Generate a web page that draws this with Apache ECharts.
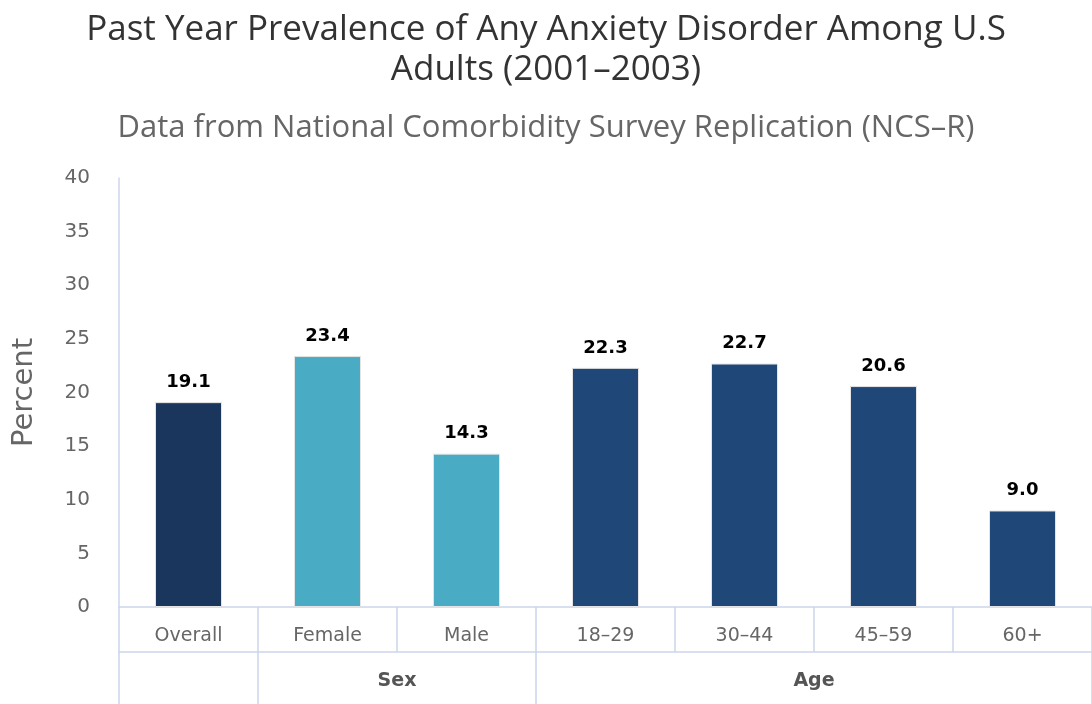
<!DOCTYPE html>
<html>
<head>
<meta charset="utf-8">
<title>Anxiety Disorder Prevalence</title>
<script src="https://cdn.jsdelivr.net/npm/echarts@6/dist/echarts.min.js"></script>
<style>
  html, body { margin: 0; padding: 0; background: #fff; }
  #container { width: 1092px; height: 704px; }
</style>
</head>
<body>
<div id="container"></div>
<script>
// chart values
var categories = ["Overall", "Female", "Male", "18\u201329", "30\u201344", "45\u201359", "60+"];
var groupOf = ["overall", "sex", "sex", "age", "age", "age", "age"];
var percentValues = [19.1, 23.4, 14.3, 22.3, 22.7, 20.6, 9.0];
// group row: label and where it sits (in category units)
var groupLabels = ["Sex", "Age"];
var groupCenters = [2, 5];
var groupEdges = [0, 1, 3, 7];
var yTicks = [0, 5, 10, 15, 20, 25, 30, 35, 40];

var colors = { overall: "#1b365d", sex: "#4aabc5", age: "#1f4778" };
var lineColor = "#ccd6eb";
var axisFont = "DejaVu Sans";

var chartDom = document.getElementById("container");
var myChart = echarts.init(chartDom);
var option;

option = {
  animation: false,
  title: [
    {
      text: "Past Year Prevalence of Any Anxiety Disorder Among U.S\nAdults (2001\u20132003)",
      left: "center",
      top: 5,
      textStyle: {
        fontFamily: "Open Sans",
        fontWeight: "normal",
        fontSize: 35,
        lineHeight: 40,
        color: "#333"
      }
    },
    {
      text: "Data from National Comorbidity Survey Replication (NCS\u2013R)",
      left: "center",
      top: 108,
      textStyle: {
        fontFamily: "Open Sans",
        fontWeight: "normal",
        fontSize: 31,
        color: "#666"
      }
    }
  ],
  grid: {
    left: 119,
    right: 0,
    top: 178,
    bottom: 97,
    containLabel: false
  },
  xAxis: [
    {
      type: "category",
      data: categories,
      position: "bottom",
      axisLine: { show: true, lineStyle: { color: lineColor, width: 1.5 } },
      axisTick: {
        show: true,
        interval: 0,
        length: 45,
        lineStyle: { color: lineColor, width: 1.5 }
      },
      axisLabel: {
        interval: 0,
        margin: 20,
        fontFamily: axisFont,
        fontSize: 19,
        color: "#666"
      }
    },
    {
      type: "value",
      min: 0,
      max: 7,
      position: "bottom",
      offset: 45,
      splitLine: { show: false },
      axisLine: { show: true, lineStyle: { color: lineColor, width: 1.5 } },
      axisTick: {
        show: true,
        customValues: groupEdges,
        length: 60,
        lineStyle: { color: lineColor, width: 1.5 }
      },
      axisLabel: {
        customValues: groupCenters,
        margin: 20,
        fontFamily: axisFont,
        fontSize: 19,
        fontWeight: "bold",
        color: "#555",
        formatter: function(v) {
          var i = groupCenters.indexOf(v);
          return i >= 0 ? groupLabels[i] : "";
        }
      }
    }
  ],
  yAxis: {
    type: "value",
    min: yTicks[0],
    max: yTicks[yTicks.length - 1],
    interval: 5,
    name: "Percent",
    nameLocation: "middle",
    nameGap: 80,
    nameTextStyle: {
      fontFamily: axisFont,
      fontSize: 29,
      color: "#666"
    },
    axisLine: { show: true, lineStyle: { color: lineColor, width: 1.5 } },
    axisTick: { show: false },
    splitLine: { show: false },
    axisLabel: {
      margin: 29,
      fontFamily: axisFont,
      fontSize: 20,
      color: "#666"
    }
  },
  series: [
    {
      type: "bar",
      xAxisIndex: 0,
      barWidth: 67,
      data: percentValues.map(function(v, i) {
        return {
          value: v,
          itemStyle: { color: colors[groupOf[i]] }
        };
      }),
      itemStyle: {
        borderColor: "#e4e4e4",
        borderWidth: 1
      },
      label: {
        show: true,
        position: "top",
        distance: 11,
        fontFamily: axisFont,
        fontWeight: "bold",
        fontSize: 18,
        color: "#000",
        formatter: function(p) {
          return p.value.toFixed(1);
        }
      }
    }
  ]
};
option && myChart.setOption(option);
</script>
</body>
</html>
